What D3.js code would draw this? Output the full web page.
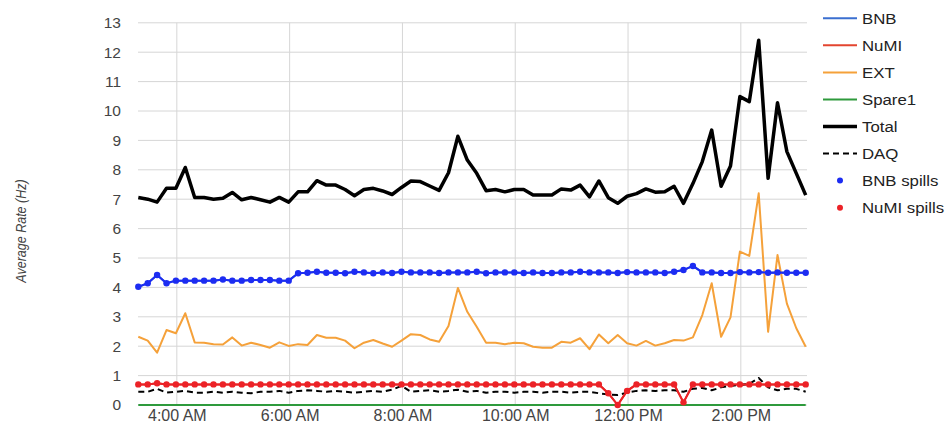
<!DOCTYPE html>
<html><head><meta charset="utf-8">
<script src="https://cdn.jsdelivr.net/npm/d3@7"></script>
<style>
html,body{margin:0;padding:0;background:#fff;}
svg{display:block;font-family:"Liberation Sans",Arial,sans-serif;}
</style></head>
<body><svg id="c" width="946" height="433"></svg>
<script>
const times = ["03:19","03:29","03:39","03:49","03:59",
"04:09","04:19","04:29","04:39","04:49","04:59",
"05:09","05:19","05:29","05:39","05:49","05:59",
"06:09","06:19","06:29","06:39","06:49","06:59",
"07:09","07:19","07:29","07:39","07:49","07:59",
"08:09","08:19","08:29","08:39","08:49","08:59",
"09:09","09:19","09:29","09:39","09:49","09:59",
"10:09","10:19","10:29","10:39","10:49","10:59",
"11:09","11:19","11:29","11:39","11:49","11:59",
"12:09","12:19","12:29","12:39","12:49","12:59",
"13:09","13:19","13:29","13:39","13:49","13:59",
"14:09","14:19","14:29","14:39","14:49","14:59",
"15:09"];

const bnbSpills = [4.02,4.14,4.42,4.14,4.23,4.23,4.23,4.23,4.23,4.27,
4.23,4.23,4.25,4.25,4.25,4.23,4.23,4.48,4.50,4.53,
4.50,4.50,4.48,4.53,4.51,4.48,4.51,4.49,4.53,4.51,
4.51,4.51,4.49,4.51,4.51,4.51,4.53,4.48,4.51,4.51,
4.51,4.49,4.51,4.49,4.49,4.51,4.51,4.53,4.51,4.51,
4.51,4.49,4.52,4.51,4.51,4.51,4.49,4.53,4.59,4.73,
4.51,4.51,4.49,4.49,4.52,4.51,4.52,4.50,4.51,4.50,
4.50,4.50];

const numiSpills = [0.70,0.70,0.74,0.70,0.70,0.70,0.70,0.70,0.70,0.70,
0.70,0.70,0.70,0.70,0.70,0.70,0.70,0.70,0.70,0.70,
0.70,0.70,0.70,0.70,0.70,0.70,0.70,0.70,0.70,0.70,
0.70,0.70,0.70,0.70,0.70,0.70,0.70,0.70,0.70,0.70,
0.70,0.70,0.70,0.70,0.70,0.70,0.70,0.70,0.70,0.70,
0.40,0.00,0.48,0.70,0.70,0.70,0.70,0.70,0.09,0.70,
0.70,0.70,0.70,0.70,0.70,0.70,0.70,0.70,0.70,0.70,
0.70,0.70];

// BNB and NuMI beam rates coincide with their spill series
const bnb = bnbSpills;
const numi = numiSpills;

const ext = [2.32,2.19,1.78,2.55,2.44,3.12,2.13,2.12,2.07,2.06,
2.30,2.02,2.12,2.04,1.95,2.13,2.01,2.07,2.04,2.38,
2.29,2.29,2.19,1.93,2.12,2.21,2.09,1.98,2.19,2.41,
2.38,2.23,2.15,2.69,3.98,3.17,2.66,2.12,2.12,2.07,
2.12,2.10,1.98,1.95,1.95,2.15,2.12,2.27,1.90,2.40,
2.10,2.38,2.10,2.02,2.18,2.02,2.10,2.21,2.19,2.30,
3.06,4.14,2.32,2.98,5.22,5.07,7.20,2.49,5.10,3.45,
2.61,1.98];

const spare1 = [0,0,0,0,0,0,0,0,0,0,0,0,0,0,0,0,0,0,0,0,0,0,0,0,
0,0,0,0,0,0,0,0,0,0,0,0,0,0,0,0,0,0,0,0,0,0,0,0,
0,0,0,0,0,0,0,0,0,0,0,0,0,0,0,0,0,0,0,0,0,0,0,0];

const total = [7.06,7.00,6.90,7.37,7.37,8.08,7.06,7.06,7.00,7.03,
7.23,6.98,7.06,6.98,6.90,7.06,6.90,7.25,7.25,7.63,
7.48,7.48,7.33,7.12,7.33,7.37,7.28,7.16,7.40,7.62,
7.60,7.45,7.30,7.90,9.14,8.33,7.88,7.29,7.33,7.25,
7.33,7.33,7.14,7.14,7.14,7.35,7.31,7.48,7.08,7.62,
7.05,6.86,7.10,7.19,7.35,7.24,7.25,7.44,6.86,7.53,
8.28,9.35,7.44,8.13,10.49,10.32,12.41,7.71,10.28,8.62,
7.88,7.14];

const daq = [0.45,0.45,0.55,0.42,0.45,0.48,0.42,0.42,0.45,0.42,
0.45,0.42,0.40,0.45,0.45,0.48,0.42,0.48,0.50,0.48,
0.45,0.48,0.45,0.42,0.45,0.48,0.45,0.52,0.65,0.45,
0.48,0.50,0.45,0.48,0.52,0.45,0.48,0.42,0.45,0.45,
0.42,0.45,0.45,0.42,0.45,0.45,0.42,0.45,0.45,0.40,
0.36,0.34,0.42,0.48,0.50,0.48,0.50,0.50,0.45,0.55,
0.58,0.50,0.60,0.65,0.68,0.72,0.92,0.60,0.50,0.55,
0.55,0.45];

const yTicks = [0,1,2,3,4,5,6,7,8,9,10,11,12,13];
const xTickTimes = ["04:00","06:00","08:00","10:00","12:00","14:00"];
const xTickLabels = ["4:00 AM","6:00 AM","8:00 AM","10:00 AM","12:00 PM","2:00 PM"];

const seriesNames = ["BNB","NuMI","EXT","Spare1","Total","DAQ","BNB spills","NuMI spills"];

(function draw() {
const parse = d3.timeParse("%H:%M");
const T = times.map(parse);

const svg = d3.select("#c");
const pLeft = 138.3, pRight = 805.7, pTop = 22.8, pBottom = 405;

const x = d3.scaleTime().domain([T[0], T[T.length-1]]).range([pLeft, pRight]);
const y = d3.scaleLinear().domain([0, 13]).range([pBottom, pTop]);

// gridlines
const grid = svg.append("g");
grid.selectAll("line.h").data(yTicks).join("line")
  .attr("x1", 138).attr("x2", 807)
  .attr("y1", d => y(d)).attr("y2", d => y(d))
  .attr("stroke", "#d6d6d6").attr("stroke-width", 1);
grid.selectAll("line.v").data(xTickTimes).join("line")
  .attr("x1", d => x(parse(d))).attr("x2", d => x(parse(d)))
  .attr("y1", pTop).attr("y2", pBottom)
  .attr("stroke", "#d6d6d6").attr("stroke-width", 1);

// y axis
const yAxis = d3.axisLeft(y).tickValues(yTicks).tickSize(0).tickPadding(0);
const gy = svg.append("g").attr("transform", "translate(121,0)").call(yAxis);
gy.select(".domain").remove();
gy.selectAll("text").attr("font-size", 15.5).attr("fill", "#444")
  .attr("font-family", "'Liberation Sans', Arial, sans-serif");

// x axis
const xAxis = d3.axisBottom(x).tickValues(xTickTimes.map(parse))
  .tickFormat((d, i) => xTickLabels[i]).tickSize(0).tickPadding(0);
const gx = svg.append("g").attr("transform", "translate(0,407)").call(xAxis);
gx.select(".domain").remove();
gx.selectAll("text").attr("font-size", 16).attr("fill", "#444").attr("dy", "0.9em")
  .attr("font-family", "'Liberation Sans', Arial, sans-serif");

// y title
svg.append("text").attr("transform", "translate(26,231) scale(1.15,1) rotate(-90)")
  .attr("text-anchor", "middle").attr("font-size", 12.5).attr("font-style", "italic")
  .attr("fill", "#444").text("Average Rate (Hz)");

const line = d3.line().x((d, i) => x(T[i])).y(d => y(d));

const colors = {
  bnb: "#3b6fd0", numi: "#e3452f", ext: "#f5a13a", spare: "#2e9a3c",
  total: "#000000", daq: "#000000", bnbDot: "#1c2cf2", numiDot: "#ec2227"
};

const plot = svg.append("g");
function drawLine(data, color, width, dash) {
  plot.append("path").datum(data).attr("d", line)
    .attr("fill", "none").attr("stroke", color).attr("stroke-width", width)
    .attr("stroke-linejoin", "round").attr("stroke-dasharray", dash || null);
}
drawLine(bnb, colors.bnb, 2);
drawLine(numi, colors.numi, 2);
drawLine(ext, colors.ext, 2);
drawLine(spare1, colors.spare, 2);
drawLine(total, colors.total, 3.5);
drawLine(daq, colors.daq, 2, "6,4");
drawLine(bnbSpills, colors.bnbDot, 2);
plot.append("g").selectAll("circle").data(bnbSpills).join("circle")
  .attr("cx", (d, i) => x(T[i])).attr("cy", d => y(d)).attr("r", 3.2)
  .attr("fill", colors.bnbDot);
drawLine(numiSpills, colors.numiDot, 2);
plot.append("g").selectAll("circle").data(numiSpills).join("circle")
  .attr("cx", (d, i) => x(T[i])).attr("cy", d => y(d)).attr("r", 3.2)
  .attr("fill", colors.numiDot);

// legend
const legendColors = [colors.bnb, colors.numi, colors.ext, colors.spare, "#000", "#000", colors.bnbDot, colors.numiDot];
const lg = svg.append("g");
seriesNames.forEach((name, i) => {
  const cy = 18.3 + i * 27.05;
  const g = lg.append("g");
  if (i < 6) {
    g.append("line").attr("x1", 823).attr("x2", 857).attr("y1", cy).attr("y2", cy)
      .attr("stroke", legendColors[i]).attr("stroke-width", i === 4 ? 3.5 : 2)
      .attr("stroke-dasharray", i === 5 ? "6,4" : null);
  } else {
    g.append("circle").attr("cx", 840).attr("cy", cy).attr("r", 3).attr("fill", legendColors[i]);
  }
  g.append("text").attr("transform", `translate(862,${cy}) scale(1.12,1)`).attr("dy", "0.35em")
    .attr("font-size", 15).attr("fill", "#222").text(name);
});
})();
</script></body></html>
